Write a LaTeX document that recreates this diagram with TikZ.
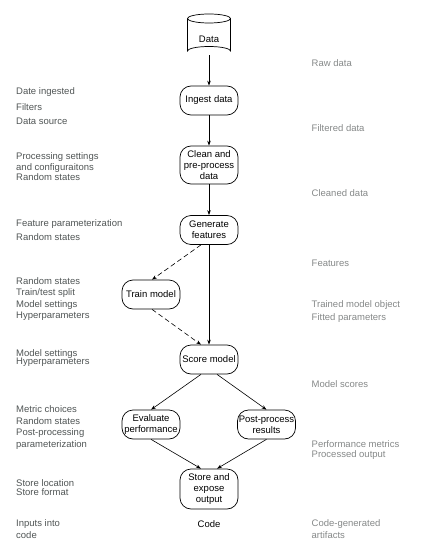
\documentclass[tikz,border=0pt]{standalone}
\usepackage{fontspec}
\setmainfont{Liberation Sans}
\usetikzlibrary{arrows.meta}
\definecolor{lefttxt}{HTML}{505555}
\definecolor{righttxt}{HTML}{858888}
\begin{document}
\begin{tikzpicture}[x=1pt,y=-1pt,
  font=\fontsize{9.5}{11}\selectfont,
  proc/.style={draw, line width=0.7pt, rounded corners=11pt, minimum width=58pt, minimum height=29pt, inner sep=1pt, align=center, text=black},
  conn/.style={line width=0.6pt, -{Stealth[length=5pt,width=3.5pt]}},
  dconn/.style={conn, dash pattern=on 5pt off 3pt},
  ltxt/.style={anchor=west, text=lefttxt, inner sep=0pt, align=left},
  rtxt/.style={anchor=west, text=righttxt, inner sep=0pt, align=left}]
\useasboundingbox (0,0) rectangle (425,559);
% cylinder
\coordinate (cylbot) at (209,55.5);
\draw[line width=0.7pt] (187.5,18.5) -- (187.5,51) arc[start angle=180,end angle=360,x radius=21.5,y radius=4.5] -- (230.5,18.5);
\draw[line width=0.7pt] (209,18.5) ellipse[x radius=21.5,y radius=4.5];
\node (data) at (209,39) {Data};
% process nodes
\node[proc] (ingest) at (209,100.5) {Ingest data};
\node[proc, minimum height=38pt] (clean) at (209,165) {Clean and\\pre-process\\data};
\node[proc] (gen) at (209,230) {Generate\\features};
\node[proc] (train) at (151,294.5) {Train model};
\node[proc] (score) at (209,359.5) {Score model};
\node[proc] (eval) at (151,424.5) {Evaluate\\performance};
\node[proc] (post) at (266.5,424.5) {Post-process\\results};
\node[proc, minimum height=40pt] (store) at (209,489) {Store and\\expose\\output};
\node (code) at (209,524) {Code};
% connectors
\coordinate (g1) at ([xshift=-8pt]gen.south);
\draw[conn] (cylbot) -- (ingest.north);
\draw[conn] (ingest) -- (clean);
\draw[conn] (clean) -- (gen);
\draw[conn] (gen) -- (score);
\draw[dconn] (g1) -- ([xshift=1pt]train.north);
\draw[dconn] ([xshift=1pt]train.south) -- ([xshift=-8pt]score.north);
\draw[conn] ([xshift=-8pt]score.south) -- (eval.north);
\draw[conn] ([xshift=8pt]score.south) -- (post.north);
\draw[conn] (eval.south) -- ([xshift=-8pt]store.north);
\draw[conn] (post.south) -- ([xshift=8pt]store.north);
% left labels
\node[ltxt] (l1) at (16,92) {Date ingested};
\node[ltxt] (l2) at (16,107) {Filters};
\node[ltxt] (l3) at (16,121.5) {Data source};
\node[ltxt] (l4) at (16,157) {Processing settings};
\node[ltxt] (l5) at (16,168.5) {and configuraitons};
\node[ltxt] (l6) at (16,177.5) {Random states};
\node[ltxt] (l7) at (16,224) {Feature parameterization};
\node[ltxt] (l8) at (16,237) {Random states};
\node[ltxt] (l9) at (16,281) {Random states};
\node[ltxt] (l10) at (16,293) {Train/test split};
\node[ltxt] (l11) at (16,305) {Model settings};
\node[ltxt] (l12) at (16,316) {Hyperparameters};
\node[ltxt] (l13) at (16,354) {Model settings};
\node[ltxt] (l14) at (16,362.5) {Hyperparameters};
\node[ltxt] (l15) at (16,409) {Metric choices};
\node[ltxt] (l16) at (16,421.5) {Random states};
\node[ltxt] (l17) at (16,433.5) {Post-processing};
\node[ltxt] (l18) at (16,445) {parameterization};
\node[ltxt] (l19) at (16,483) {Store location};
\node[ltxt] (l20) at (16,492) {Store format};
\node[ltxt] (l21) at (16,524) {Inputs into};
\node[ltxt] (l22) at (16,535.5) {code};
% right labels
\node[rtxt] (r1) at (311.5,63.5) {Raw data};
\node[rtxt] (r2) at (311.5,128.5) {Filtered data};
\node[rtxt] (r3) at (311.5,193.5) {Cleaned data};
\node[rtxt] (r4) at (311.5,263) {Features};
\node[rtxt] (r5) at (311.5,305) {Trained model object};
\node[rtxt] (r6) at (311.5,318) {Fitted parameters};
\node[rtxt] (r7) at (311.5,384) {Model scores};
\node[rtxt] (r8) at (311.5,444) {Performance metrics};
\node[rtxt] (r9) at (311.5,455.5) {Processed output};
\node[rtxt] (r10) at (311.5,524) {Code-generated};
\node[rtxt] (r11) at (311.5,535.5) {artifacts};
\end{tikzpicture}
\end{document}
